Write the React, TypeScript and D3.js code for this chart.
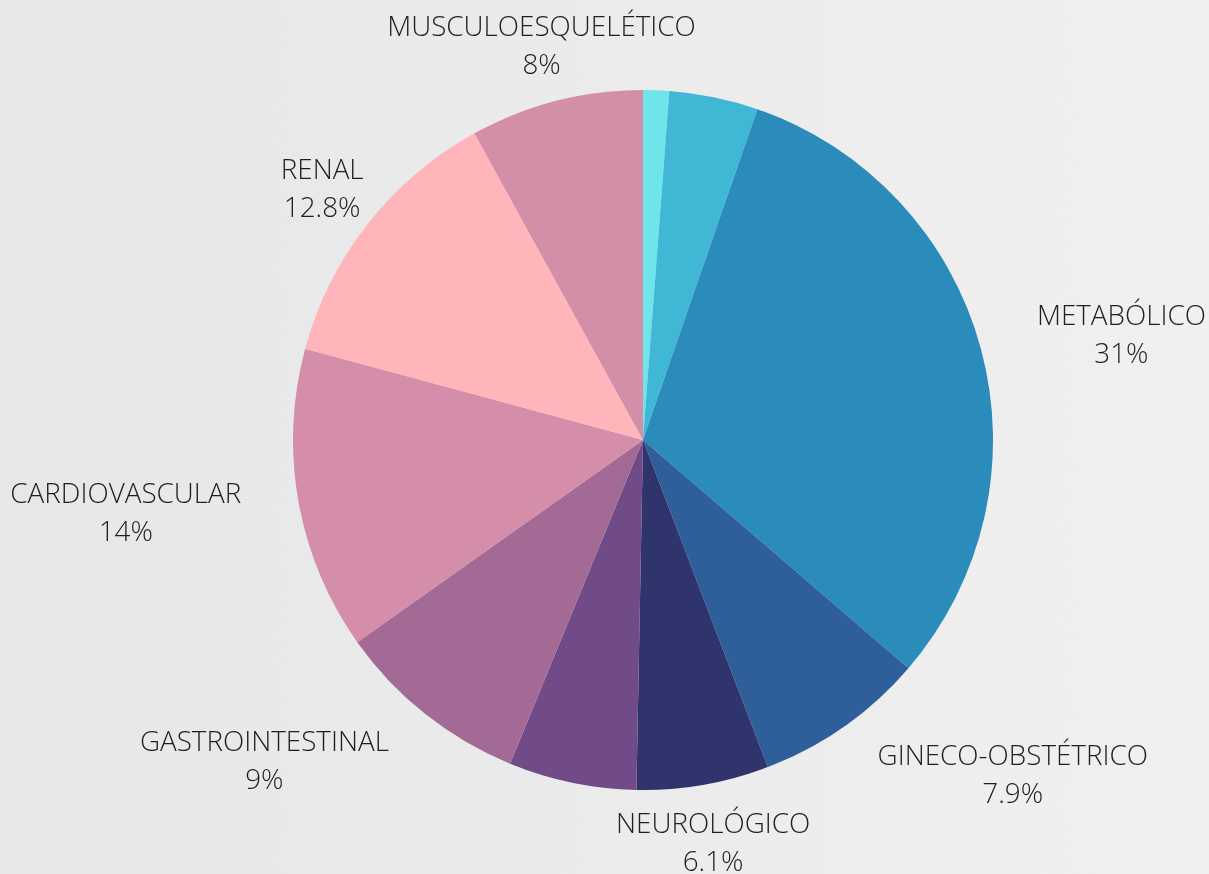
import * as d3 from "d3";
import { useEffect, useRef } from "react";

// slices clockwise from 12 o'clock; empty name = slice drawn without a label
const categories = [
  "",
  "",
  "METABÓLICO",
  "GINECO-OBSTÉTRICO",
  "NEUROLÓGICO",
  "",
  "GASTROINTESTINAL",
  "CARDIOVASCULAR",
  "RENAL",
  "MUSCULOESQUELÉTICO",
];
const values = [1.2, 4.1, 31, 7.9, 6.1, 5.9, 9, 14, 12.8, 8];
const valueLabels = ["", "", "31%", "7.9%", "6.1%", "", "9%", "14%", "12.8%", "8%"];
const colors = [
  "#6de5e9",
  "#40b7d5",
  "#2b8bba",
  "#2e5f9a",
  "#30346c",
  "#714b87",
  "#a36a96",
  "#d58ea9",
  "#ffb5ba",
  "#d38ea8",
];

const W = 1209;
const H = 874;

export default function App() {
  const svgRef = useRef<SVGSVGElement>(null);

  useEffect(() => {
    const svg = d3.select(svgRef.current);
    svg.selectAll("*").remove();

    const cx = 643,
      cy = 440,
      radius = 350,
      labelR = 408;

    // textured paper background, a bit darker on the left
    const defs = svg.append("defs");
    const grad = defs.append("linearGradient").attr("id", "bg").attr("x1", 0).attr("x2", 1).attr("y1", 0).attr("y2", 0);
    grad.append("stop").attr("offset", "0%").attr("stop-color", "#e5e6e7");
    grad.append("stop").attr("offset", "60%").attr("stop-color", "#ebebec");
    grad.append("stop").attr("offset", "100%").attr("stop-color", "#f0f0f0");

    const f = defs.append("filter").attr("id", "paper").attr("x", 0).attr("y", 0).attr("width", "100%").attr("height", "100%");
    f.append("feTurbulence").attr("type", "fractalNoise").attr("baseFrequency", 0.7).attr("numOctaves", 2).attr("seed", 3).attr("result", "n");
    f.append("feColorMatrix")
      .attr("in", "n")
      .attr("type", "matrix")
      .attr("values", "0 0 0 0 1  0 0 0 0 1  0 0 0 0 1  0 0 0 0.08 0")
      .attr("result", "a");
    f.append("feComposite").attr("in", "a").attr("in2", "SourceGraphic").attr("operator", "over");

    svg.append("rect").attr("width", W).attr("height", H).attr("fill", "url(#bg)").attr("filter", "url(#paper)");

    const data = values.map((v, i) => ({ name: categories[i], value: v, label: valueLabels[i], color: colors[i] }));

    const pie = d3
      .pie<any>()
      .sort(null)
      .value((d) => d.value);
    const arc = d3.arc<any>().innerRadius(0).outerRadius(radius);

    const g = svg.append("g").attr("transform", `translate(${cx},${cy})`);
    const arcs = pie(data);

    g.selectAll("path")
      .data(arcs)
      .enter()
      .append("path")
      .attr("d", arc)
      .attr("fill", (d) => d.data.color);

    // labels: centred on the mid angle at labelR, pushed to start/end anchor if they'd hit the pie
    const labels = g
      .selectAll("g.lbl")
      .data(arcs.filter((d) => d.data.name))
      .enter()
      .append("g")
      .attr("class", "lbl");

    labels.each(function (d) {
      const el = d3.select(this);
      const mid = (d.startAngle + d.endAngle) / 2;
      const ax = labelR * Math.sin(mid);
      const ay = -labelR * Math.cos(mid);
      const t = el
        .append("text")
        .attr("font-family", "'Open Sans', sans-serif")
        .attr("font-weight", 300)
        .attr("font-size", 27.8)
        .attr("fill", "#1f1f1f")
        .attr("text-anchor", "middle");
      t.append("tspan").attr("x", 0).attr("y", -8.5).text(d.data.name);
      t.append("tspan").attr("x", 0).attr("y", 29.5).text(d.data.label);

      const bb = (t.node() as SVGTextElement).getBBox();
      const hw = bb.width / 2;
      const top = ay - 29.5,
        bot = ay + 29.5;
      const nx = Math.max(ax - hw, Math.min(0, ax + hw));
      const ny = Math.max(top, Math.min(0, bot));
      let x = ax;
      if (Math.hypot(nx, ny) < radius + 5) {
        x = ax + Math.sign(Math.sin(mid)) * hw;
      }
      el.attr("transform", `translate(${x},${ay})`);
    });
  }, []);

  return (
    <div style={{ position: "fixed", left: 0, top: 0 }}>
      <svg ref={svgRef} width={W} height={H} style={{ display: "block" }}></svg>
    </div>
  );
}
